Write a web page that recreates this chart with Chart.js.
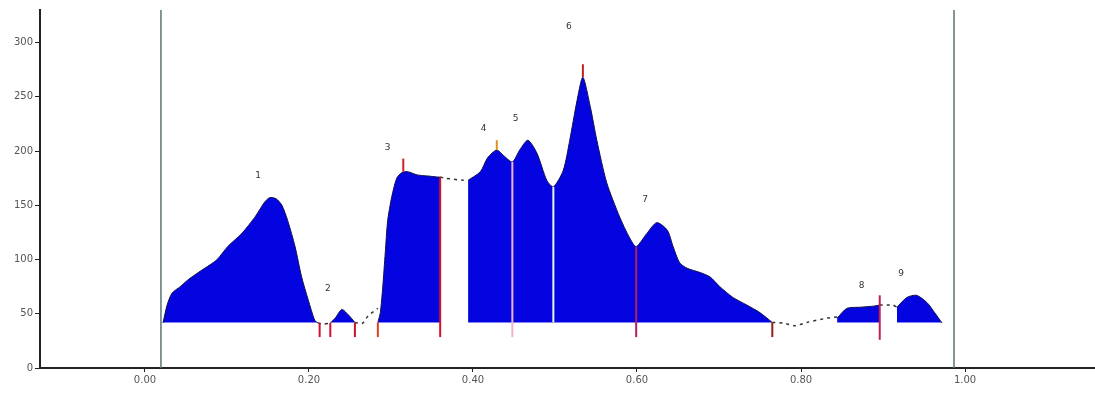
<!DOCTYPE html>
<html>
<head>
<meta charset="utf-8">
<script src="https://cdn.jsdelivr.net/npm/chart.js@4.4.1/dist/chart.umd.min.js"></script>
<style>
    html, body { margin: 0; padding: 0; background: #fff; }
    #wrap { width: 1095px; height: 394px; }
</style>
</head>
<body>
<div id="wrap"><canvas id="scan"></canvas></div>
<script>
// Densitometry scan: filled peak bands, dashed gaps between them, band separators

const xTicks = [0, 0.2, 0.4, 0.6, 0.8, 1.0];
const yTicks = [0, 50, 100, 150, 200, 250, 300];
const baseline = 42;

// filled bands [x, y]
const band1 = [[0.022, 41.5], [0.027, 58], [0.033, 69], [0.043, 75], [0.052, 81], [0.065, 88], [0.079, 95], [0.088, 100],
    [0.101, 112], [0.118, 124], [0.134, 139], [0.146, 153], [0.152, 157], [0.160, 156], [0.167, 150], [0.174, 136],
    [0.183, 112], [0.191, 84], [0.199, 63], [0.207, 44], [0.211, 41.5]];
const band2 = [[0.226, 41.5], [0.232, 46], [0.240, 54], [0.248, 49], [0.256, 42]];
const band3 = [[0.284, 42], [0.287, 51], [0.290, 75], [0.293, 106], [0.296, 136], [0.301, 158], [0.307, 175],
    [0.313, 180], [0.320, 181], [0.332, 178], [0.345, 177], [0.357, 176], [0.360, 176]];
const band4 = [[0.394, 173], [0.409, 181], [0.418, 194], [0.429, 201], [0.437, 196], [0.448, 190], [0.457, 201],
    [0.467, 210], [0.478, 198], [0.490, 173], [0.498, 167], [0.510, 182], [0.518, 210], [0.527, 247], [0.534, 268],
    [0.543, 241], [0.551, 210], [0.563, 171], [0.579, 139], [0.591, 120], [0.599, 112], [0.612, 124], [0.624, 134],
    [0.637, 127], [0.644, 112], [0.652, 97], [0.661, 92], [0.677, 88], [0.689, 84], [0.701, 75], [0.717, 65],
    [0.734, 58], [0.750, 51], [0.765, 42]];
const band5 = [[0.844, 46], [0.856, 55], [0.872, 56], [0.888, 57], [0.896, 58]];
const band6 = [[0.917, 56], [0.929, 65], [0.941, 67], [0.954, 60], [0.963, 51], [0.972, 41.5]];

// unfilled stretches of the trace
const gap1 = [[0.211, 41.5], [0.218, 40.5], [0.226, 41.5]];
const gap2 = [[0.256, 42], [0.265, 41], [0.272, 48], [0.284, 55]];
const gap3 = [[0.360, 176], [0.366, 175], [0.388, 173], [0.394, 173]];
const gap4 = [[0.765, 42], [0.778, 41.5], [0.793, 39], [0.807, 42], [0.832, 46], [0.844, 47]];
const gap5 = [[0.896, 58], [0.912, 58], [0.917, 56]];

// band separators and peak marks
const sepX = [0.213, 0.226, 0.256, 0.284, 0.315, 0.360, 0.429, 0.448, 0.498, 0.534, 0.599, 0.765, 0.896];
const sepTop = [41.5, 41.5, 42, 42, 193, 176, 210, 190, 167, 280, 112, 42, 67];
const sepBottom = [28.5, 28.5, 28.5, 28.5, 181, 28.5, 201, 28.5, 42, 268, 28.5, 28.5, 26];

// application window markers
const markerX = [0.0195, 0.9866];

// peak numbers
const peakNames = ['1', '2', '3', '4', '5', '6', '7', '8', '9'];
const peakLabelX = [0.138, 0.223, 0.296, 0.413, 0.452, 0.517, 0.610, 0.874, 0.922];
const peakLabelY = [177, 73, 203, 221, 230, 315, 155, 76, 87];

const sepColors = ['#d01030', '#d01030', '#d01030', '#e04020', '#d02020', '#d01030', '#e09020',
    '#f0b0d0', '#e8f4e8', '#c02020', '#b02060', '#902020', '#c02050'];

const pts = arr => arr.map(p => ({ x: p[0], y: p[1] }));

const datasets = [];

sepX.forEach((x, i) => {
    datasets.push({
        data: [{ x: x, y: sepBottom[i] }, { x: x, y: sepTop[i] }],
        borderColor: sepColors[i], borderWidth: 2, pointRadius: 0, fill: false, order: 1
    });
});

[gap1, gap2, gap3, gap4, gap5].forEach(g => {
    datasets.push({
        data: pts(g), borderColor: '#333', borderWidth: 1.5, borderDash: [3, 4],
        pointRadius: 0, fill: false, tension: 0.2, order: 2
    });
});

[band1, band2, band3, band4, band5, band6].forEach(b => {
    datasets.push({
        data: pts(b), borderColor: '#101050', borderWidth: 1, backgroundColor: '#0404e0',
        fill: { value: baseline }, pointRadius: 0, tension: 0.25, order: 3
    });
});

markerX.forEach(x => {
    datasets.push({
        data: [{ x: x, y: 0 }, { x: x, y: 330 }],
        borderColor: '#5b7373', borderWidth: 1.5, pointRadius: 0, fill: false, order: 4
    });
});

const peakLabels = {
    id: 'peakLabels',
    afterDatasetsDraw(chart) {
        const { ctx, scales } = chart;
        ctx.save();
        ctx.font = '9px "DejaVu Sans"';
        ctx.fillStyle = '#333';
        ctx.textAlign = 'center';
        ctx.textBaseline = 'middle';
        peakNames.forEach((t, i) => {
            ctx.fillText(t, scales.x.getPixelForValue(peakLabelX[i]), scales.y.getPixelForValue(peakLabelY[i]));
        });
        ctx.restore();
    }
};

new Chart(document.getElementById('scan'), {
    type: 'line',
    data: { datasets: datasets },
    options: {
        responsive: true,
        maintainAspectRatio: false,
        animation: false,
        layout: { padding: { top: 10, right: 0, left: 0, bottom: 0 } },
        plugins: { legend: { display: false }, tooltip: { enabled: false } },
        scales: {
            x: {
                type: 'linear', min: -0.128, max: 1.1585,
                afterBuildTicks: s => { s.ticks = xTicks.map(v => ({ value: v })); },
                afterFit: s => { s.height = 26; },
                grid: { drawOnChartArea: false, drawTicks: true, tickLength: 4, color: '#222' },
                border: { display: true, color: '#222', width: 2 },
                ticks: {
                    color: '#555', font: { family: 'DejaVu Sans', size: 10 }, padding: 2,
                    maxRotation: 0, autoSkip: false, callback: v => v.toFixed(2)
                }
            },
            y: {
                min: 0, max: 330,
                afterBuildTicks: s => { s.ticks = yTicks.map(v => ({ value: v })); },
                afterFit: s => { s.width = 40; },
                grid: { drawOnChartArea: false, drawTicks: true, tickLength: 5, color: '#222' },
                border: { display: true, color: '#222', width: 2 },
                ticks: { color: '#555', font: { family: 'DejaVu Sans', size: 10 }, padding: 2, autoSkip: false }
            }
        }
    },
    plugins: [peakLabels]
});
</script>
</body>
</html>
